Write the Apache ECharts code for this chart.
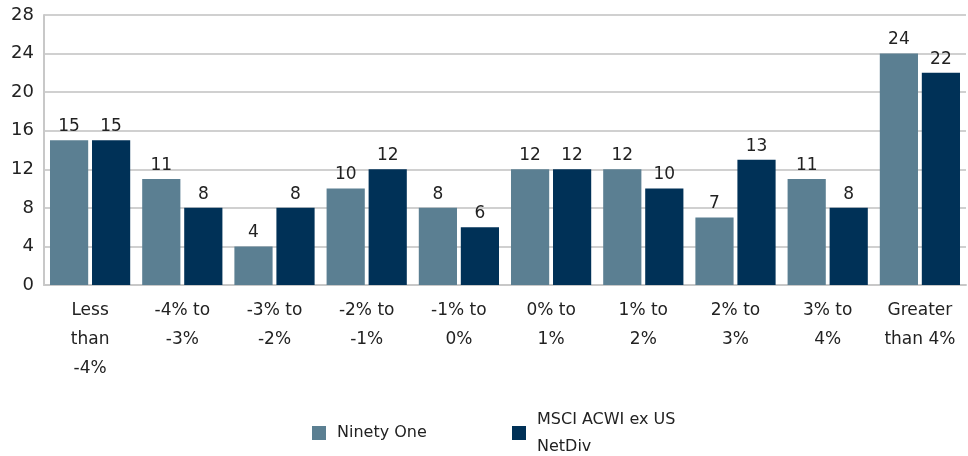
<!DOCTYPE html>
<html>
<head>
<meta charset="utf-8">
<script src="https://cdn.jsdelivr.net/npm/echarts@6/dist/echarts.min.js"></script>
<style>
  html, body { margin: 0; padding: 0; background: #fff; }
  #chart { width: 968px; height: 456px; }
</style>
</head>
<body>
<div id="chart"></div>
<script>
// Return buckets and the number of holdings in each
const categories = [
  'Less\nthan\n-4%', '-4% to\n-3%', '-3% to\n-2%', '-2% to\n-1%', '-1% to\n0%',
  '0% to\n1%', '1% to\n2%', '2% to\n3%', '3% to\n4%', 'Greater\nthan 4%'
];
const ninetyOne = [15, 11, 4, 10, 8, 12, 12, 7, 11, 24];
const msciAcwi = [15, 8, 8, 12, 6, 12, 10, 13, 8, 22];
const yTicks = [0, 4, 8, 12, 16, 20, 24, 28];

const FONT = '"DejaVu Sans", sans-serif';

const chart = echarts.init(document.getElementById('chart'));
chart.setOption({
  animation: false,
  textStyle: { fontFamily: FONT },
  grid: { left: 44, right: 2, top: 15, bottom: 171 },
  legend: {
    left: 312,
    top: 406,
    padding: 0,
    itemWidth: 14,
    itemHeight: 14,
    itemGap: 13,
    icon: 'rect',
    textStyle: {
      fontSize: 16, color: '#222', fontFamily: FONT,
      width: 162, overflow: 'break', lineHeight: 27, padding: [0, 0, 0, 6]
    },
    data: ['Ninety One', 'MSCI ACWI ex US NetDiv']
  },
  xAxis: {
    type: 'category',
    data: categories,
    axisLine: { show: true, lineStyle: { color: '#c8c8c8', width: 2 } },
    axisTick: { show: false },
    axisLabel: { fontSize: 17, color: '#222', lineHeight: 29, margin: 11, interval: 0, fontFamily: FONT }
  },
  yAxis: {
    type: 'value',
    min: yTicks[0],
    max: yTicks[yTicks.length - 1],
    interval: 4,
    axisLine: { show: true, lineStyle: { color: '#c8c8c8', width: 2 } },
    axisTick: { show: false },
    axisLabel: { fontSize: 18, color: '#222', margin: 10, fontFamily: FONT },
    splitLine: { lineStyle: { color: '#d0d0d0', width: 2 } }
  },
  series: [
    {
      name: 'Ninety One',
      type: 'bar',
      data: ninetyOne,
      barGap: '10%',
      barCategoryGap: '13%',
      itemStyle: { color: '#5b7f92' },
      label: { show: true, position: 'top', distance: 5, fontSize: 17, color: '#222', fontFamily: FONT }
    },
    {
      name: 'MSCI ACWI ex US NetDiv',
      type: 'bar',
      data: msciAcwi,
      itemStyle: { color: '#003157' },
      label: { show: true, position: 'top', distance: 5, fontSize: 17, color: '#222', fontFamily: FONT }
    }
  ]
});
</script>
</body>
</html>
